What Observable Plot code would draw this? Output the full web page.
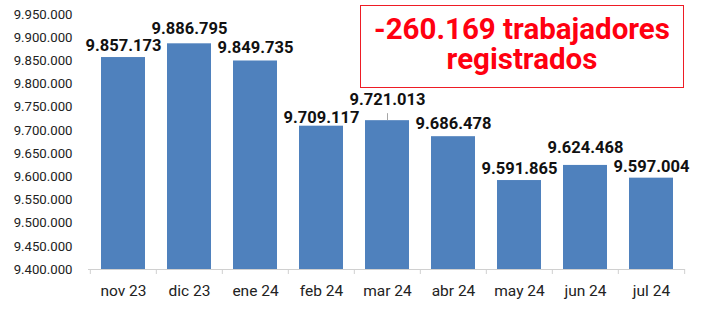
<!DOCTYPE html>
<html>
<head>
<meta charset="utf-8">
<script src="https://cdn.jsdelivr.net/npm/d3@7"></script>
<script src="https://cdn.jsdelivr.net/npm/@observablehq/plot@0.6"></script>
<style>
  html, body { margin: 0; padding: 0; background: #fff; }
  #wrap { position: relative; width: 713px; height: 310px; font-family: Roboto, "Noto Sans", sans-serif; }
  #box { position: absolute; left: 360px; top: 5px; width: 322px; height: 73px; padding-top: 8px; border: 1px solid #ee1c25;
         color: #ff0010; font-weight: bold; font-size: 29.5px; line-height: 30px; text-align: center;
         box-sizing: content-box; background: #fff; }
</style>
</head>
<body>
<div id="wrap"></div>
<script>
const months = ["nov 23","dic 23","ene 24","feb 24","mar 24","abr 24","may 24","jun 24","jul 24"];
const workers = [9857173, 9886795, 9849735, 9709117, 9721013, 9686478, 9591865, 9624468, 9597004];
const yTicks = [9400000,9450000,9500000,9550000,9600000,9650000,9700000,9750000,9800000,9850000,9900000,9950000];
const titleLines = ["-260.169 trabajadores", "registrados"];

const locale = d3.formatLocale({decimal: ",", thousands: ".", grouping: [3], currency: ["", "€"]});
const fmt = locale.format(",d");
const data = months.map((m, i) => ({month: m, value: workers[i]}));

// manual label nudges (pixels upward), as in the original layout
const nudge = {"dic 23": 4, "ene 24": 2, "feb 24": -3, "mar 24": 9, "abr 24": 1, "jun 24": 6};

const W = 713, H = 310, ML = 88, MR = 28;
const step = (W - ML - MR) / months.length;

const labelMarks = data.map(d => Plot.text([d], {
  x: "month", y: "value", text: d => fmt(d.value),
  dy: -11.5 - (nudge[d.month] || 0), fontSize: 16.5, fontWeight: "bold", fill: "#111"
}));

const chart = Plot.plot({
  width: W, height: H,
  marginLeft: ML, marginRight: MR, marginTop: 14, marginBottom: 41,
  style: {fontFamily: "Roboto, sans-serif", background: "#fff", overflow: "visible"},
  x: {domain: months, paddingInner: 0.337, paddingOuter: 0.1685, label: null},
  y: {domain: [9400000, 9950000], label: null},
  marks: [
    Plot.axisY({ticks: yTicks, tickFormat: fmt, tickSize: 0, tickPadding: 16, fontSize: 13.2, color: "#222", label: null}),
    Plot.axisX({tickSize: 0, tickPadding: 15, fontSize: 15.5, color: "#222", label: null}),
    Plot.barY(data, {x: "month", y1: 9400000, y2: "value", fill: "#4f81bd"}),
    Plot.ruleY([9400000], {stroke: "#d0d0d0", strokeWidth: 1.2}),
    Plot.ruleX(data, {x: "month", y1: 9400000, y2: 9400000, insetBottom: -5, dx: -step / 2, stroke: "#d0d0d0"}),
    Plot.ruleX(data.slice(-1), {x: "month", y1: 9400000, y2: 9400000, insetBottom: -5, dx: step / 2, stroke: "#d0d0d0"}),
    Plot.ruleX(data.filter(d => d.month === "mar 24"), {x: "month", y1: "value", y2: "value", insetTop: -7, stroke: "#a6a6a6"}),
    ...labelMarks
  ]
});

const wrap = document.getElementById("wrap");
wrap.appendChild(chart);
const box = document.createElement("div");
box.id = "box";
box.innerHTML = titleLines.map(t => `<div>${t}</div>`).join("");
wrap.appendChild(box);
</script>
</body>
</html>
